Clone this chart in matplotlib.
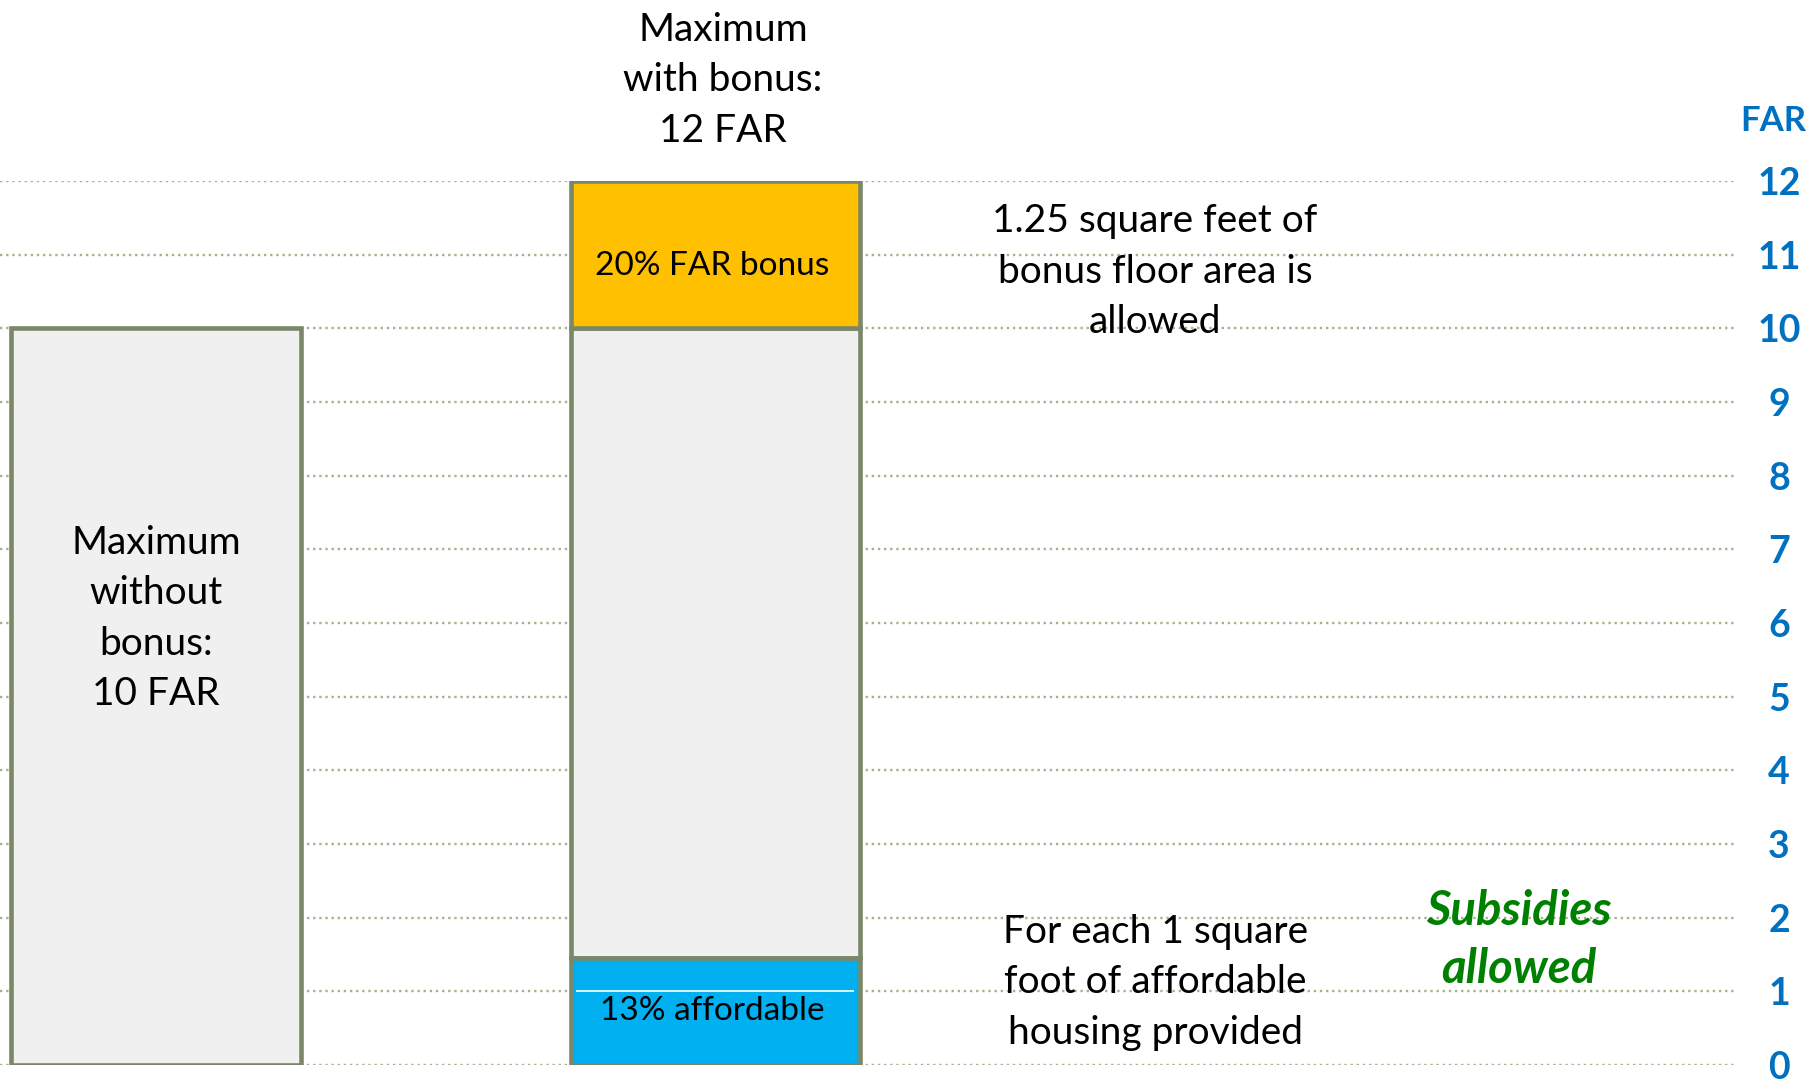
import numpy as np
import matplotlib.pyplot as plt

plt.rcParams['font.family'] = ['Lato', 'DejaVu Sans']

# data
far_ticks = list(range(0, 13))
base_max = 10          # maximum without bonus
bonus_max = 12         # maximum with bonus
affordable_top = 1.45  # 13% affordable segment
white_mark = 1.0

edge = '#7A8769'
grey = '#F0F0F0'
gold = '#FFC000'
cyan = '#00B0F0'
blue = '#0070C0'

fig = plt.figure(figsize=(18.09, 10.83), dpi=100)
ax = fig.add_axes([0, 1 - 1065 / 1083, 1736 / 1809, (1065 - 181) / 1083])
ax.set_xlim(-0.279, 2.826)
ax.set_ylim(0, 12)

for y in far_ticks:
    ax.axhline(y, color='#A3B48E', lw=1.7, ls=(0, (1, 1.6)), zorder=0)

w = 0.517
kw = dict(edgecolor=edge, linewidth=3.3, width=w, zorder=2)
ax.bar(0, base_max, color=grey, **kw)
ax.bar(1, base_max - affordable_top, bottom=affordable_top, color=grey, **kw)
ax.bar(1, bonus_max - base_max, bottom=base_max, color=gold, **kw)
ax.bar(1, affordable_top, color=cyan, **kw)
ax.hlines(white_mark, 1 - w / 2 + 0.01, 1 + w / 2 - 0.01, color='white', lw=1.2, zorder=3)

tk = dict(ha='center', va='center', fontsize=28, linespacing=1.5, clip_on=False, zorder=4)
ax.text(0, 6.06, 'Maximum\nwithout\nbonus:\n10 FAR', **tk)
ax.text(1.014, 13.37, 'Maximum\nwith bonus:\n12 FAR', **tk)
ax.text(0.995, 10.84, '20% FAR bonus', ha='center', va='center', fontsize=24, zorder=4)
ax.text(0.995, 0.73, '13% affordable', ha='center', va='center', fontsize=24, zorder=4)
ax.text(1.787, 10.765, '1.25 square feet of\nbonus floor area is\nallowed', **tk)
ax.text(1.787, 1.12, 'For each 1 square\nfoot of affordable\nhousing provided', **tk)
ax.text(2.438, 1.70, 'Subsidies\nallowed', ha='center', va='center', fontsize=34,
        linespacing=1.4, color='#008000', fontweight='bold', style='italic', zorder=4)
ax.text(2.893, 12.82, 'FAR', ha='center', va='center', fontsize=25,
        color=blue, fontweight='bold', clip_on=False)

ax.yaxis.tick_right()
ax.set_yticks(far_ticks)
ax.tick_params(axis='y', length=0, pad=31, labelsize=27, labelcolor=blue)
for lab in ax.get_yticklabels():
    lab.set_horizontalalignment('center')
    lab.set_fontweight('bold')
ax.set_xticks([])
for s in ax.spines.values():
    s.set_visible(False)

fig.savefig('out.png', dpi=100)
